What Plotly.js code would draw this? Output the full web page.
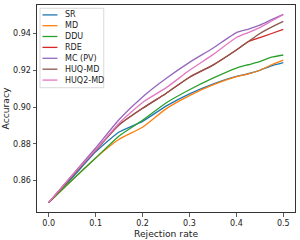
<!DOCTYPE html>
<html>
<head>
<meta charset="utf-8">
<script src="https://cdn.plot.ly/plotly-3.0.1.min.js"></script>
<style>html,body{margin:0;padding:0;background:#fff;}#chart{width:300px;height:240px;}</style>
</head>
<body>
<div id="chart"></div>
<script>
// ---- data ----
var rejectionRate = [0, 0.05, 0.1, 0.15, 0.2, 0.25, 0.3, 0.35, 0.4, 0.425, 0.45, 0.475, 0.5];
var SR     = [0.848, 0.8615, 0.8756, 0.8864, 0.8922, 0.9005, 0.9072, 0.9125, 0.9167, 0.9181, 0.9200, 0.9224, 0.9241];
var MD     = [0.848, 0.8603, 0.8723, 0.8825, 0.8890, 0.8990, 0.9062, 0.9120, 0.9165, 0.9180, 0.9200, 0.9230, 0.9255];
var DDU    = [0.848, 0.8603, 0.8723, 0.8843, 0.8928, 0.9022, 0.9094, 0.9157, 0.9212, 0.9230, 0.9247, 0.9271, 0.9283];
var RDE    = [0.848, 0.8625, 0.8764, 0.8903, 0.8993, 0.9074, 0.9162, 0.9228, 0.9310, 0.9355, 0.9377, 0.9400, 0.9423];
var MCPV   = [0.848, 0.8630, 0.8777, 0.8932, 0.9055, 0.9155, 0.9243, 0.9320, 0.9405, 0.9423, 0.9445, 0.9475, 0.9504];
var HUQMD  = [0.848, 0.8625, 0.8764, 0.8903, 0.8993, 0.9074, 0.9162, 0.9228, 0.9310, 0.9355, 0.9400, 0.9435, 0.9466];
var HUQ2MD = [0.848, 0.8628, 0.8767, 0.8912, 0.9025, 0.9104, 0.9200, 0.9285, 0.9378, 0.9405, 0.9432, 0.9468, 0.9502];

var seriesNames = ['SR', 'MD', 'DDU', 'RDE', 'MC (PV)', 'HUQ-MD', 'HUQ2-MD'];
var seriesValues = [SR, MD, DDU, RDE, MCPV, HUQMD, HUQ2MD];
var colors = ['#1f77b4', '#ff7f0e', '#2ca02c', '#d62728', '#9467bd', '#8c564b', '#e377c2'];

var xTickVals = [0, 0.1, 0.2, 0.3, 0.4, 0.5];
var xTickText = ['0.0', '0.1', '0.2', '0.3', '0.4', '0.5'];
var yTickVals = [0.86, 0.88, 0.90, 0.92, 0.94];
var yTickText = ['0.86', '0.88', '0.90', '0.92', '0.94'];

// ---- layout geometry ----
var W = 300, H = 240;
var M = {l: 37, r: 4, t: 4, b: 27};
var PW = W - M.l - M.r, PH = H - M.t - M.b;
function px(x) { return (x - M.l) / PW; }
function py(y) { return 1 - (y - M.t) / PH; }

var traces = seriesNames.map(function (n, i) {
  return {
    x: rejectionRate, y: seriesValues[i], name: n, type: 'scatter', mode: 'lines',
    line: {color: colors[i], width: 1.3, shape: 'spline', smoothing: 0.5},
    showlegend: false, hoverinfo: 'skip'
  };
});

// compact legend (matplotlib style)
var shapes = [{
  type: 'rect', xref: 'paper', yref: 'paper',
  x0: px(40), x1: px(104), y0: py(87.5), y1: py(7.3),
  line: {color: '#d0d0d0', width: 0.8}, fillcolor: 'rgba(255,255,255,0.8)', layer: 'above'
}];
var annotations = [];
var rowY = [14, 24.9, 35.8, 46.8, 57.8, 68.8, 79.8];
seriesNames.forEach(function (n, i) {
  shapes.push({
    type: 'line', xref: 'paper', yref: 'paper',
    x0: px(42.5), x1: px(57.5), y0: py(rowY[i]), y1: py(rowY[i]),
    line: {color: colors[i], width: 1.3}, layer: 'above'
  });
  annotations.push({
    xref: 'paper', yref: 'paper', x: px(63.5), y: py(rowY[i]),
    xanchor: 'left', yanchor: 'middle', text: n, showarrow: false,
    font: {family: 'DejaVu Sans', size: 8, color: '#222'}
  });
});

var axisCommon = {
  showgrid: false, zeroline: false, showline: true, mirror: true,
  linecolor: '#333', linewidth: 1, ticks: 'outside', ticklen: 3.5, tickwidth: 0.8,
  tickcolor: '#333', tickfont: {family: 'DejaVu Sans', size: 8, color: '#222'},
  automargin: true, fixedrange: true
};

var layout = {
  width: W, height: H, margin: M,
  paper_bgcolor: '#fff', plot_bgcolor: '#fff',
  xaxis: Object.assign({}, axisCommon, {
    range: [-0.025, 0.525], tickmode: 'array', tickvals: xTickVals, ticktext: xTickText,
    title: {text: 'Rejection rate', font: {family: 'DejaVu Sans', size: 9.2, color: '#222'}, standoff: 1}
  }),
  yaxis: Object.assign({}, axisCommon, {
    range: [0.8429, 0.9555], tickmode: 'array', tickvals: yTickVals, ticktext: yTickText,
    title: {text: 'Accuracy', font: {family: 'DejaVu Sans', size: 9.2, color: '#222'}, standoff: 2}
  }),
  shapes: shapes, annotations: annotations, showlegend: false
};

Plotly.newPlot('chart', traces, layout, {staticPlot: true, displayModeBar: false});
</script>
</body>
</html>
